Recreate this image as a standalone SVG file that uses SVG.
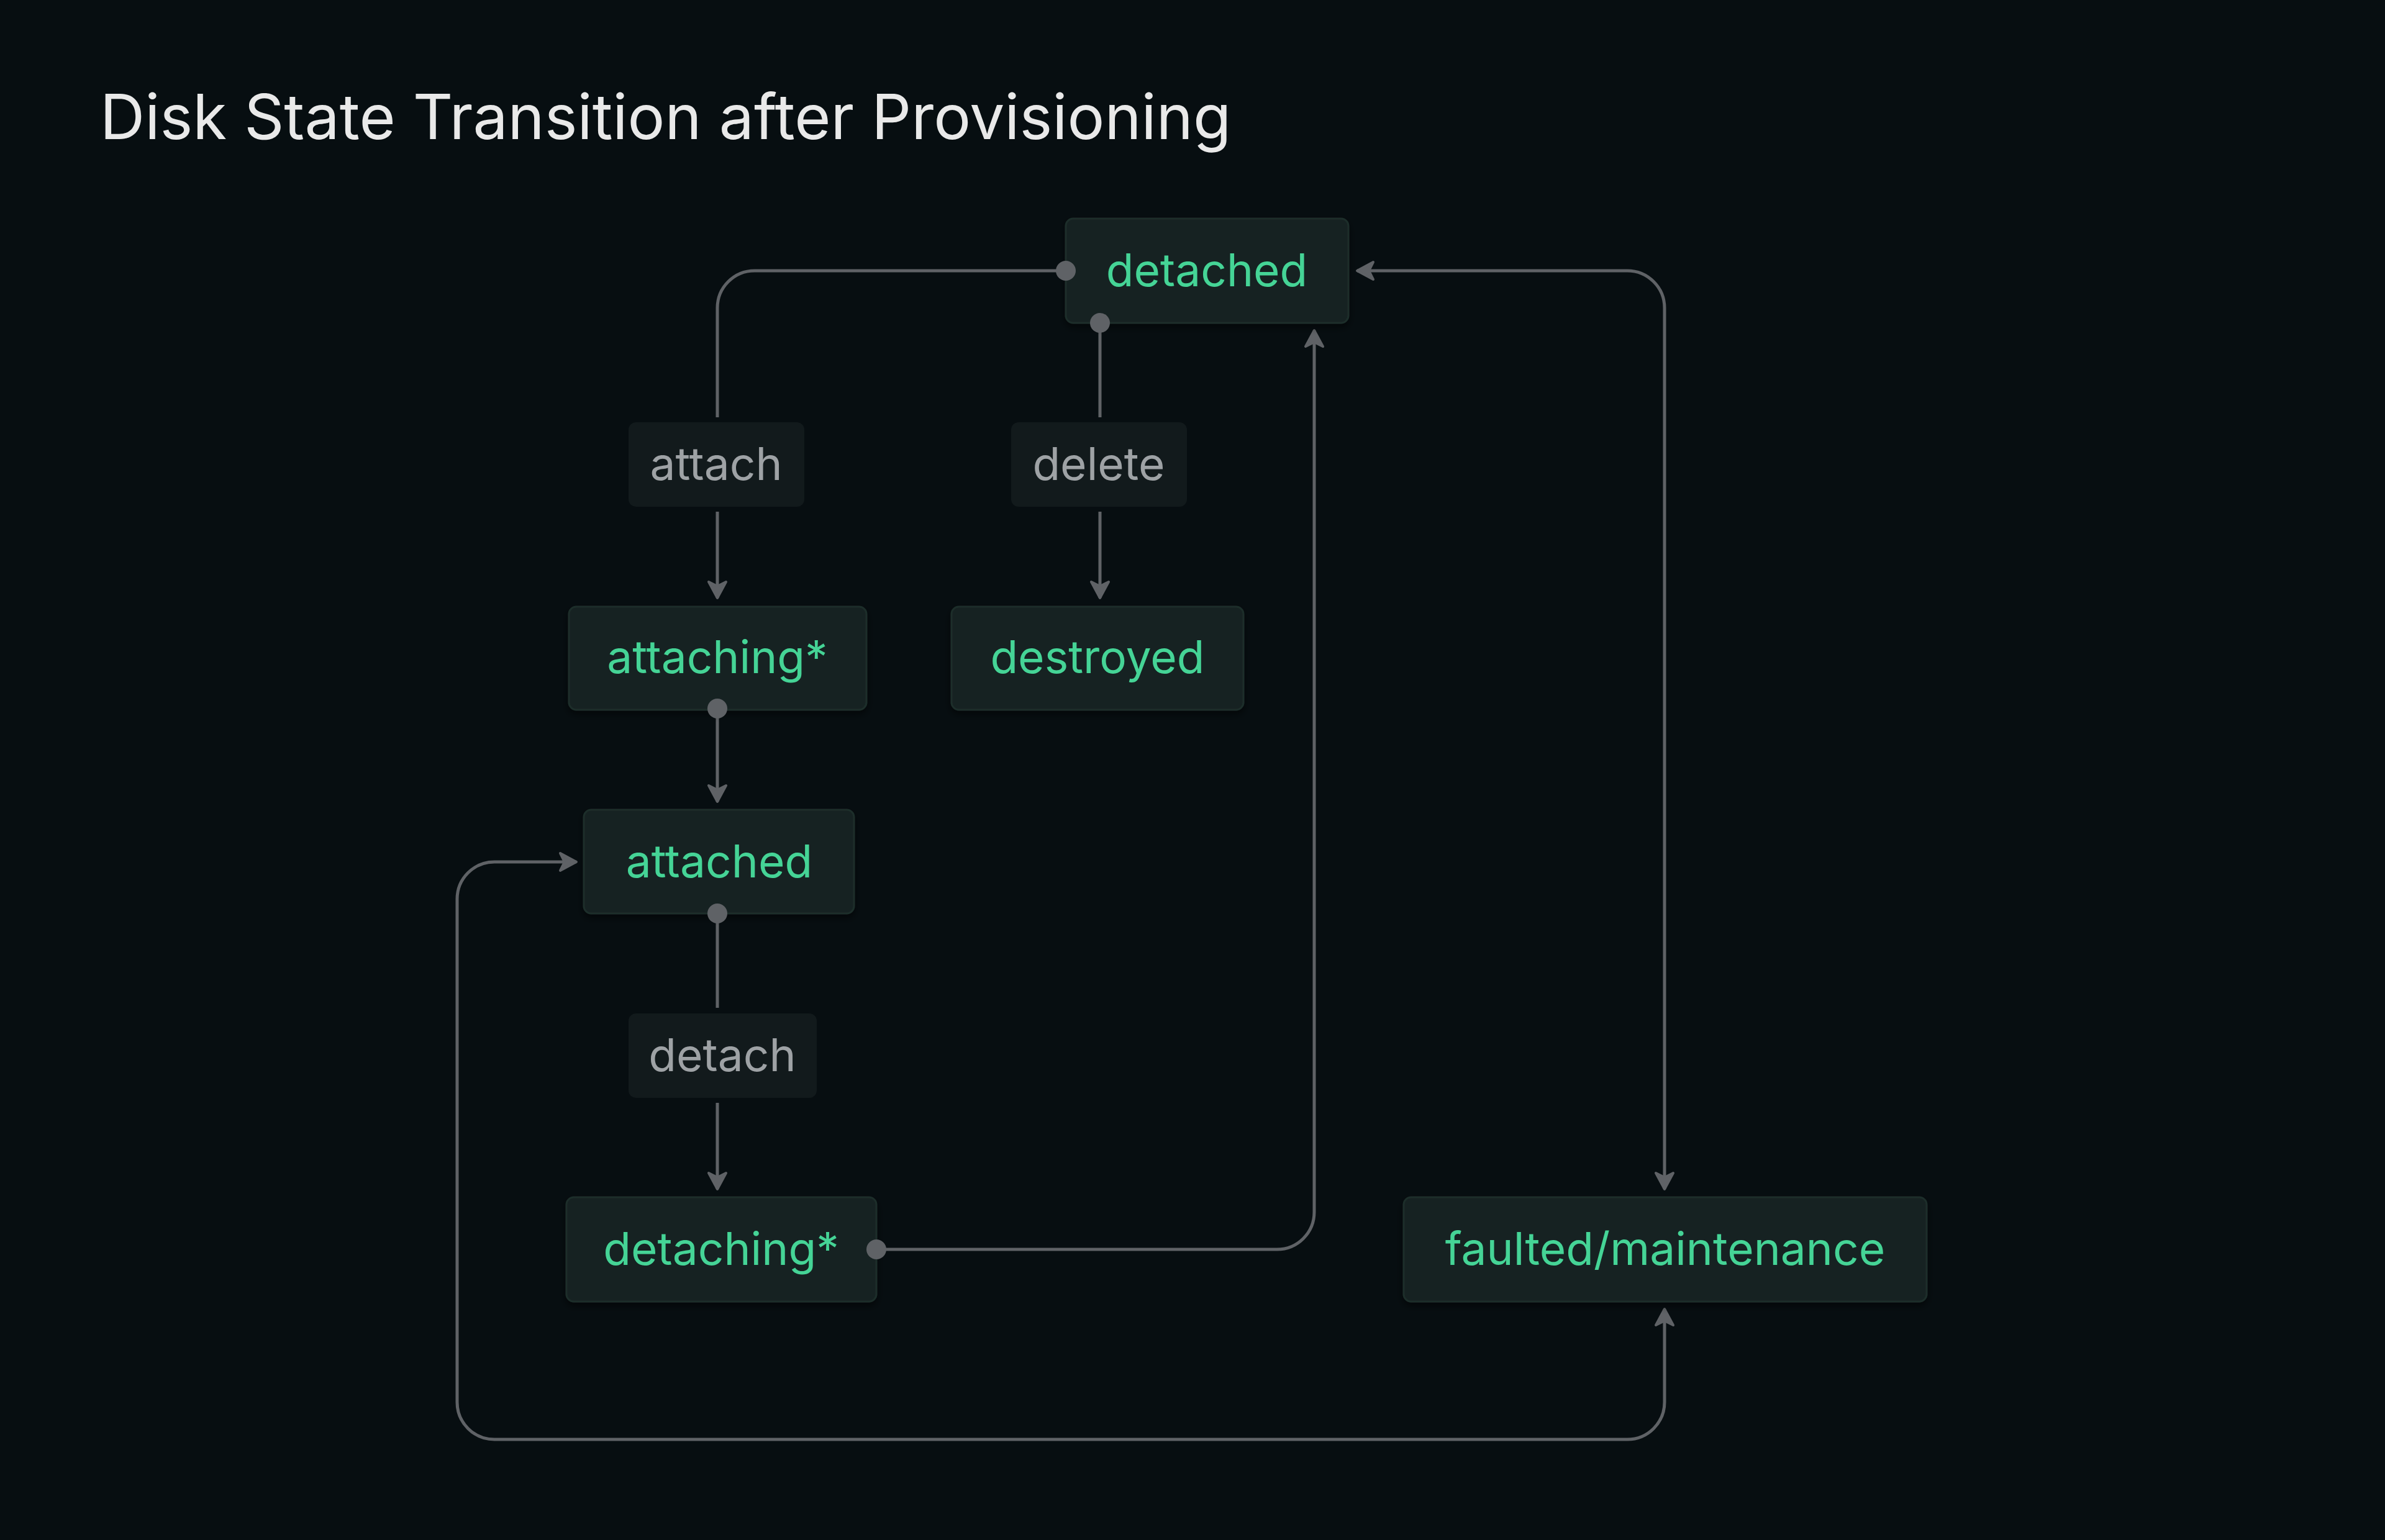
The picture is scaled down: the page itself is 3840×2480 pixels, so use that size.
<svg xmlns="http://www.w3.org/2000/svg" width="3840" height="2480" viewBox="0 0 3840 2480">
<defs>
<style>
.node{fill:#172222;stroke:#1f2e2b;stroke-width:3}
.lbl{fill:#121a1c}
.nt{font-family:Inter,"Noto Sans",sans-serif;font-size:73px;fill:#45d496;text-anchor:middle}
.lt{font-family:Inter,"Noto Sans",sans-serif;font-size:73px;fill:#9ea2a5;text-anchor:middle}
.title{font-family:Inter,"Noto Sans",sans-serif;font-size:100px;fill:#e9e9e9}
.edge{fill:none;stroke:#5f6266;stroke-width:5}
.dot{fill:#5f6266}
</style>
<marker id="arr" viewBox="-34 -22 40 44" refX="0" refY="0" markerWidth="40" markerHeight="44" markerUnits="userSpaceOnUse" orient="auto-start-reverse">
<path d="M0,0 L-26,-14 L-19,0 L-26,14 Z" fill="#5f6266" stroke="#5f6266" stroke-width="4" stroke-linejoin="round"/>
</marker>
<filter id="sh" x="-10%" y="-10%" width="120%" height="130%">
<feDropShadow dx="0" dy="6" stdDeviation="6" flood-color="#000" flood-opacity="0.5"/>
</filter>
</defs>
<rect width="3840" height="2480" fill="#070e11"/>
<text class="title" x="161" y="224">Disk State Transition after Provisioning</text>

<g id="connectors">
<path class="edge" d="M1716,436 H1215 A60,60 0 0 0 1155,496 V672"/>
<path class="edge" d="M1155,824 V963" marker-end="url(#arr)"/>
<path class="edge" d="M1771,520 V672"/>
<path class="edge" d="M1771,824 V963" marker-end="url(#arr)"/>
<path class="edge" d="M1155,1141 V1291" marker-end="url(#arr)"/>
<path class="edge" d="M1155,1471 V1623"/>
<path class="edge" d="M1155,1776 V1915" marker-end="url(#arr)"/>
<path class="edge" d="M1411,2012 H2056 A60,60 0 0 0 2116,1952 V532" marker-end="url(#arr)"/>
<path class="edge" d="M2680,1915 V496 A60,60 0 0 0 2620,436 H2185" marker-start="url(#arr)" marker-end="url(#arr)"/>
<path class="edge" d="M2680,2108 V2258 A60,60 0 0 1 2620,2318 H796 A60,60 0 0 1 736,2258 V1448 A60,60 0 0 1 796,1388 H928" marker-start="url(#arr)" marker-end="url(#arr)"/>
</g>

<g id="node-detached">
<rect class="node" filter="url(#sh)" x="1716" y="352" width="455" height="168" rx="12"/>
<text class="nt" x="1943" y="461">detached</text>
</g>
<g id="label-attach">
<rect class="lbl" x="1012" y="680" width="283" height="136" rx="12"/>
<text class="lt" x="1153" y="773">attach</text>
</g>
<g id="label-delete">
<rect class="lbl" x="1628" y="680" width="283" height="136" rx="12"/>
<text class="lt" x="1769" y="773">delete</text>
</g>
<g id="node-attaching">
<rect class="node" filter="url(#sh)" x="916" y="977" width="479" height="166" rx="12"/>
<text class="nt" x="1155" y="1084">attaching*</text>
</g>
<g id="node-destroyed">
<rect class="node" filter="url(#sh)" x="1532" y="977" width="470" height="166" rx="12"/>
<text class="nt" x="1767" y="1084">destroyed</text>
</g>
<g id="node-attached">
<rect class="node" filter="url(#sh)" x="940" y="1304" width="435" height="167" rx="12"/>
<text class="nt" x="1158" y="1413">attached</text>
</g>
<g id="label-detach">
<rect class="lbl" x="1012" y="1632" width="303" height="136" rx="12"/>
<text class="lt" x="1163" y="1725">detach</text>
</g>
<g id="node-detaching">
<rect class="node" filter="url(#sh)" x="912" y="1928" width="499" height="168" rx="12"/>
<text class="nt" x="1161" y="2037">detaching*</text>
</g>
<g id="node-faulted">
<rect class="node" filter="url(#sh)" x="2260" y="1928" width="842" height="168" rx="12"/>
<text class="nt" x="2681" y="2037">faulted/maintenance</text>
</g>

<g id="dots">
<circle class="dot" cx="1716" cy="436" r="16"/>
<circle class="dot" cx="1771" cy="520" r="16"/>
<circle class="dot" cx="1155" cy="1141" r="16"/>
<circle class="dot" cx="1155" cy="1471" r="16"/>
<circle class="dot" cx="1411" cy="2012" r="16"/>
</g>
</svg>
